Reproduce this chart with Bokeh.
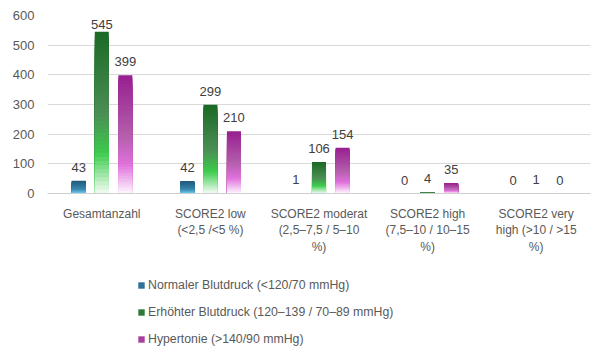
from bokeh.plotting import figure
from bokeh.layouts import column
from bokeh.models import ColumnDataSource, Legend, LegendItem, FactorRange, Range1d, FixedTicker
from bokeh.transform import dodge
from bokeh.core.properties import value
from bokeh.embed import file_html
from bokeh.resources import INLINE

categories = ["Gesamtanzahl", "SCORE2 low\n(<2,5 /<5 %)", "SCORE2 moderat\n(2,5–7,5 / 5–10\n%)",
              "SCORE2 high\n(7,5–10 / 10–15\n%)", "SCORE2 very\nhigh (>10 / >15\n%)"]
series_names = ["Normaler Blutdruck (<120/70 mmHg)",
                "Erhöhter Blutdruck (120–139 / 70–89 mmHg)",
                "Hypertonie (>140/90 mmHg)"]
normal = [43, 42, 1, 0, 0]
erhoeht = [545, 299, 106, 4, 1]
hyper = [399, 210, 154, 35, 0]
y_ticks = [0, 100, 200, 300, 400, 500, 600]
Y_MAX = 600

FONT = "Liberation Sans"
TXT = "#595959"

# gradient stops: (fraction from bottom, colour)
stops = [
    [(0.0, "#72d2f6"), (0.35, "#3a86ae"), (1.0, "#1f597a")],
    [(0.0, "#ffffff"), (0.26, "#3ccc4c"), (0.5, "#4b8f55"), (1.0, "#1c6a25")],
    [(0.0, "#ffffff"), (0.26, "#e070dc"), (0.5, "#b45fac"), (1.0, "#982090")],
]
legend_colors = ["#2f7198", "#2f7a3a", "#a8409e"]
offsets = [-0.212, 0.0, 0.217]
N = 40


def hex2rgb(h):
    h = h.lstrip("#")
    return tuple(int(h[i:i + 2], 16) for i in (0, 2, 4))


def interp(st, f):
    for (f0, c0), (f1, c1) in zip(st[:-1], st[1:]):
        if f0 <= f <= f1:
            t = (f - f0) / (f1 - f0) if f1 > f0 else 0
            a, b = hex2rgb(c0), hex2rgb(c1)
            return "#%02x%02x%02x" % tuple(round(a[k] + (b[k] - a[k]) * t) for k in range(3))
    return st[-1][1]


p = figure(x_range=FactorRange(*categories), y_range=Range1d(0, Y_MAX),
           width=597, height=264, output_backend="svg", toolbar_location=None,
           min_border_left=47, min_border_right=7, min_border_top=15, min_border_bottom=71)
p.outline_line_color = None
p.background_fill_color = "white"

values = [normal, erhoeht, hyper]
for s, vals in enumerate(values):
    xs, tops, cols = [], [], []
    for i in range(N):
        f = 1 - i / N
        for c, v in zip(categories, vals):
            if v <= 0:
                continue
            xs.append(c)
            tops.append(v * f)
            cols.append(interp(stops[s], f))
    src = ColumnDataSource(dict(x=xs, top=tops, color=cols))
    p.vbar(x=dodge("x", offsets[s], range=p.x_range), top="top", bottom=0, width=0.129,
           fill_color="color", line_color=None, source=src)

    # labels kept inside the plot area (clamped near the top)
    ly = [min(v, 0.875 * Y_MAX) for v in vals]
    lsrc = ColumnDataSource(dict(x=categories, y=ly, t=[str(v) for v in vals]))
    p.text(x=dodge("x", offsets[s], range=p.x_range), y="y", text="t", source=lsrc,
           text_align="center", text_baseline="bottom", y_offset=-9,
           text_font=value(FONT), text_font_size="13px", text_color="#404040")

p.xgrid.grid_line_color = None
p.ygrid.grid_line_color = "#d9d9d9"
p.ygrid.ticker = FixedTicker(ticks=y_ticks)
p.yaxis.ticker = FixedTicker(ticks=y_ticks)
p.yaxis.axis_line_color = None
p.yaxis.major_tick_line_color = None
p.yaxis.minor_tick_line_color = None
p.yaxis.major_label_text_font = FONT
p.yaxis.major_label_text_font_size = "13px"
p.yaxis.major_label_text_color = TXT
p.yaxis.major_label_standoff = 7

p.xaxis.axis_line_color = "#cfcfcf"
p.xaxis.major_tick_line_color = None
p.xaxis.minor_tick_line_color = None
p.xaxis.major_label_text_font = FONT
p.xaxis.major_label_text_font_size = "12px"
p.xaxis.major_label_text_color = TXT
p.xaxis.major_label_standoff = 7
p.x_range.range_padding = 0
p.x_range.group_padding = 0

# legend panel
lp = figure(width=597, height=90, x_range=Range1d(0, 597), y_range=Range1d(0, 90),
            x_axis_type=None, y_axis_type=None,
            output_backend="svg", toolbar_location=None, min_border=0)
lp.outline_line_color = None
lp.grid.grid_line_color = None
legend_items = []
for s in range(3):
    dummy = lp.rect(x=[-50], y=[-50], width=1, height=1, fill_color=legend_colors[s], line_color=None)
    legend_items.append(LegendItem(label=series_names[s], renderers=[dummy]))
legend = Legend(items=legend_items, orientation="vertical", location=(90, 5),
                border_line_color=None, background_fill_alpha=0,
                label_text_font=FONT, label_text_font_size="12.3px", label_text_color=TXT,
                glyph_width=8, glyph_height=8, label_height=20, spacing=7,
                padding=0, margin=0, label_standoff=3)
lp.add_layout(legend, "center")

layout = column(p, lp, spacing=0)
open("out.html", "w").write(file_html(layout, INLINE))
